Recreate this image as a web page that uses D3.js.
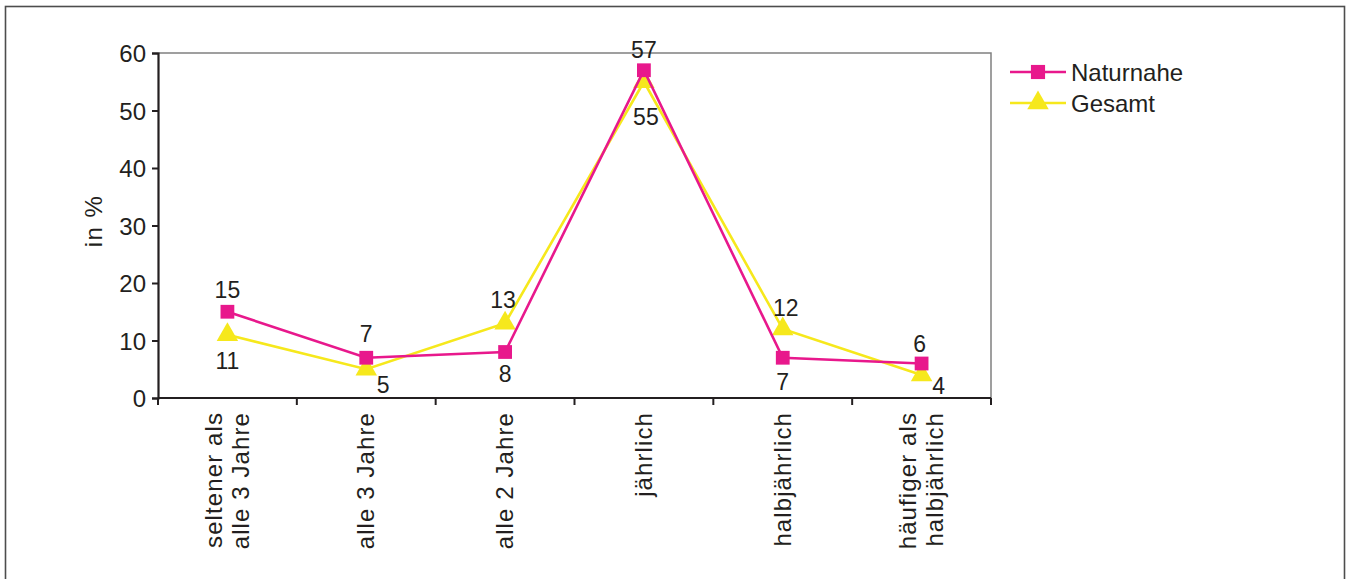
<!DOCTYPE html>
<html>
<head>
<meta charset="utf-8">
<script src="https://cdn.jsdelivr.net/npm/d3@7"></script>
<style>
  html, body { margin: 0; padding: 0; background: #fff; }
  svg { display: block; font-family: Arial, "Liberation Sans", Helvetica, sans-serif; }
</style>
</head>
<body>
<script>
// Frequency categories and percentages per group
const categories = [
  ["seltener als", "alle 3 Jahre"],
  ["alle 3 Jahre"],
  ["alle 2 Jahre"],
  ["jährlich"],
  ["halbjährlich"],
  ["häufiger als", "halbjährlich"]
];
const naturnahe = [15, 7, 8, 57, 7, 6];
const gesamt = [11, 5, 13, 55, 12, 4];
const yTicks = [0, 10, 20, 30, 40, 50, 60];
// label placement per point: [dx, dy] offsets from the marker to the text baseline
const naturnaheLabelPos = [[0, -14], [0, -16], [0, 30], [0, -12], [0, 32], [-2, -12]];
const gesamtLabelPos = [[0, 34], [17, 24], [-2, -15], [2, 43], [3, -13], [17, 19]];

const W = 1346, H = 579;
const margin = { left: 158, top: 53, right: 991, bottom: 398 };
const pink = "#E8188C", yellow = "#F6E81C", ink = "#231f20";

const svg = d3.select("body").append("svg").attr("width", W).attr("height", H);

// outer frame (bottom edge falls outside the canvas)
svg.append("rect").attr("x", 5.5).attr("y", 6.5).attr("width", 1339).attr("height", 600)
  .attr("fill", "none").attr("stroke", "#4d4d4d").attr("stroke-width", 1.6);

const x = d3.scaleBand().domain(d3.range(categories.length))
  .range([margin.left, margin.right]).paddingInner(0).paddingOuter(0);
const y = d3.scaleLinear().domain([0, 60]).range([margin.bottom, margin.top]);
const cx = i => x(i) + x.bandwidth() / 2;

// plot frame top and right
svg.append("path")
  .attr("d", `M${margin.left},${margin.top}H${margin.right}V${margin.bottom}`)
  .attr("fill", "none").attr("stroke", "#808080").attr("stroke-width", 1.5);

// y axis
const yAxis = svg.append("g").attr("transform", `translate(${margin.left},0)`)
  .call(d3.axisLeft(y).tickValues(yTicks).tickSize(6).tickPadding(6));
yAxis.select(".domain").attr("stroke", ink).attr("stroke-width", 2.2);
yAxis.selectAll(".tick line").attr("stroke", ink).attr("stroke-width", 2);
yAxis.selectAll(".tick text").attr("font-size", 24).attr("fill", ink)
  .attr("dy", "0.36em")
  .attr("font-family", "Arial, 'Liberation Sans', sans-serif");

// x axis with ticks between categories
const xAxisG = svg.append("g").attr("transform", `translate(0,${margin.bottom})`);
xAxisG.append("line").attr("x1", margin.left).attr("x2", margin.right)
  .attr("stroke", ink).attr("stroke-width", 2.2);
xAxisG.selectAll("line.tk").data(d3.range(categories.length + 1)).join("line")
  .attr("class", "tk")
  .attr("x1", i => i < categories.length ? x(i) : margin.right)
  .attr("x2", i => i < categories.length ? x(i) : margin.right)
  .attr("y1", 0).attr("y2", 7)
  .attr("stroke", ink).attr("stroke-width", 2);

// rotated category labels
const catG = svg.append("g");
categories.forEach((lines, i) => {
  const n = lines.length;
  lines.forEach((t, j) => {
    const off = (j - (n - 1) / 2) * 27;
    catG.append("text")
      .attr("transform", `translate(${cx(i) + off + 8},${margin.bottom + 14}) rotate(-90)`)
      .attr("text-anchor", "end")
      .attr("font-size", 24).attr("letter-spacing", 1.1).attr("fill", ink)
      .text(t);
  });
});

// y axis title
svg.append("text")
  .attr("transform", `translate(102,${221}) rotate(-90)`)
  .attr("text-anchor", "middle").attr("font-size", 24).attr("letter-spacing", 1.5)
  .attr("fill", ink)
  .text("in %");

const line = d3.line().x((d, i) => cx(i)).y(d => y(d));

// Gesamt series drawn first, Naturnahe on top
function drawSeries(values, color, shape, labelPos) {
  svg.append("path").datum(values).attr("d", line)
    .attr("fill", "none").attr("stroke", color).attr("stroke-width", 2.6);
  const sym = shape === "square"
    ? d3.symbol().type(d3.symbolSquare).size(190)
    : d3.symbol().type(d3.symbolTriangle).size(200);
  svg.selectAll(null).data(values).join("path")
    .attr("d", sym)
    .attr("transform", (d, i) => `translate(${cx(i)},${y(d)})`)
    .attr("fill", color);
  svg.selectAll(null).data(values).join("text")
    .attr("x", (d, i) => cx(i) + labelPos[i][0])
    .attr("y", (d, i) => y(d) + labelPos[i][1])
    .attr("text-anchor", "middle").attr("font-size", 23).attr("fill", ink)
    .text(d => d);
}
drawSeries(gesamt, yellow, "triangle", gesamtLabelPos);
drawSeries(naturnahe, pink, "square", naturnaheLabelPos);

// legend
const legend = [
  { name: "Naturnahe", color: pink, shape: "square" },
  { name: "Gesamt", color: yellow, shape: "triangle" }
];
legend.forEach((d, i) => {
  const ly = 72 + i * 31;
  svg.append("line").attr("x1", 1010).attr("x2", 1066).attr("y1", ly).attr("y2", ly)
    .attr("stroke", d.color).attr("stroke-width", 2.6);
  const sym = d.shape === "square"
    ? d3.symbol().type(d3.symbolSquare).size(200)
    : d3.symbol().type(d3.symbolTriangle).size(200);
  svg.append("path").attr("d", sym).attr("transform", `translate(1038,${ly})`).attr("fill", d.color);
  svg.append("text").attr("x", 1071).attr("y", ly + 9).attr("font-size", 24)
    .attr("fill", ink).text(d.name);
});
</script>
</body>
</html>
